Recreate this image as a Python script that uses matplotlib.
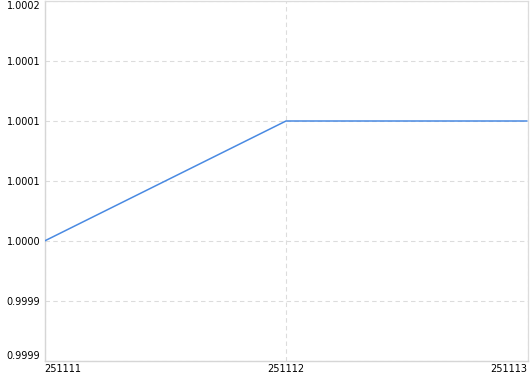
import matplotlib
matplotlib.use("Agg")
import matplotlib.pyplot as plt
import numpy as np

categories = ["251111", "251112", "251113"]
values = [1.0000, 1.0001, 1.0001]
y_ticks = [0.9999, 0.99995, 1.0, 1.00005, 1.0001, 1.00015, 1.0002]
y_labels = ["0.9999", "0.9999", "1.0000", "1.0001", "1.0001", "1.0001", "1.0002"]

plt.rcParams['font.family'] = ['DejaVu Sans']

fig = plt.figure(figsize=(5.30, 3.74), dpi=100)
W, H = 530, 374
left, right, top, bottom = 44.5, 527.5, 1.0, 361.0
ax = fig.add_axes([left / W, 1 - bottom / H, (right - left) / W, (bottom - top) / H])

x = np.arange(len(categories))
ax.plot(x, values, color="#4a8ae2", linewidth=1.1, solid_capstyle="butt", zorder=3)

ax.set_xlim(0, len(categories) - 1)
ax.set_ylim(y_ticks[0], y_ticks[-1])

ax.set_yticks(y_ticks)
ax.set_yticklabels(y_labels)
ax.set_xticks(x)
ax.set_xticklabels(categories)

grid_col = "#dcdcdc"
ax.grid(True, color=grid_col, linestyle=(0, (4, 3)), linewidth=0.8, zorder=0)

for side in ["top", "right"]:
    ax.spines[side].set_visible(True)
    ax.spines[side].set_color(grid_col)
    ax.spines[side].set_linewidth(0.9)
for side in ["left", "bottom"]:
    ax.spines[side].set_color("#d6d6d6")
    ax.spines[side].set_linewidth(1.0)

ax.tick_params(axis="both", length=0, labelsize=7, colors="#000000", pad=3)
ax.tick_params(axis="x", pad=2.5)

xl = ax.get_xticklabels()
xl[0].set_ha("left")
xl[-1].set_ha("right")

yl = ax.get_yticklabels()
for t in yl[1:-1]:
    t.set_va("center_baseline")
yl[0].set_va("bottom")
yl[-1].set_va("top")

fig.savefig("out.png", dpi=100, facecolor="white")
